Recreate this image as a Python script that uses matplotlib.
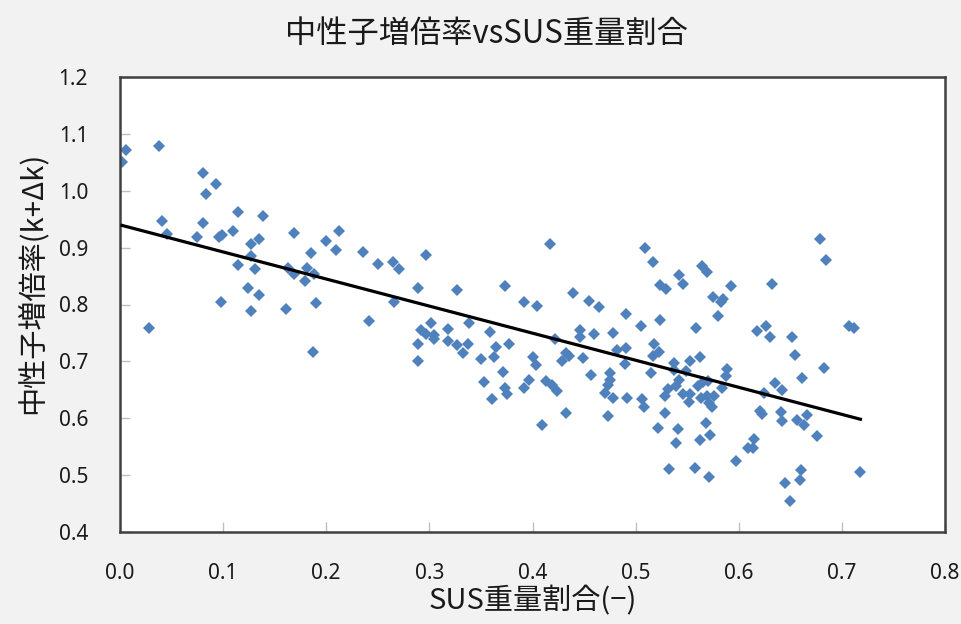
import matplotlib
matplotlib.use('Agg')
import matplotlib.pyplot as plt
import numpy as np

plt.rcParams['font.family'] = ['Noto Sans CJK JP', 'DejaVu Sans']

# SUS weight fraction [-] and neutron multiplication factor (k+dk)
sus_fraction = [
    0.002, 0.006, 0.038, 0.080, 0.093, 0.083, 0.114, 0.139, 0.041, 0.080,
    0.046, 0.075, 0.096, 0.099, 0.110, 0.135, 0.127, 0.169, 0.212, 0.200,
    0.209, 0.236, 0.250, 0.127, 0.185, 0.114, 0.131, 0.163, 0.169, 0.181,
    0.188, 0.179, 0.124, 0.135, 0.098, 0.161, 0.190, 0.127, 0.028, 0.187,
    0.241,
    0.265, 0.271, 0.297, 0.289, 0.327, 0.266, 0.373, 0.417, 0.439, 0.455,
    0.464, 0.392, 0.404, 0.491, 0.302, 0.292, 0.297, 0.304, 0.304, 0.318,
    0.318, 0.338, 0.327, 0.337, 0.333, 0.289, 0.289, 0.359, 0.365, 0.377,
    0.350, 0.363, 0.371, 0.353, 0.373, 0.375, 0.361, 0.392, 0.397, 0.400,
    0.403, 0.413, 0.419, 0.424, 0.422, 0.432, 0.409, 0.446, 0.446, 0.460,
    0.478, 0.482, 0.491, 0.432, 0.435, 0.429, 0.449, 0.490, 0.457, 0.475,
    0.475, 0.473, 0.470, 0.478, 0.492, 0.473,
    0.509, 0.517, 0.564, 0.569, 0.542, 0.546, 0.524, 0.529, 0.592, 0.632,
    0.575, 0.585, 0.583, 0.580, 0.524, 0.505, 0.559, 0.618, 0.626, 0.630,
    0.652, 0.518, 0.523, 0.517, 0.562, 0.553, 0.537, 0.537, 0.515, 0.549,
    0.589, 0.588, 0.542, 0.539, 0.531, 0.528, 0.546, 0.553, 0.552, 0.560,
    0.565, 0.570, 0.563, 0.571, 0.576, 0.5745, 0.584, 0.569, 0.635, 0.642,
    0.624, 0.506, 0.508, 0.528, 0.522, 0.541, 0.539, 0.568, 0.562, 0.572,
    0.532, 0.558, 0.571, 0.597, 0.615, 0.609, 0.614, 0.621, 0.623, 0.641,
    0.642, 0.645, 0.650,
    0.679, 0.685, 0.707, 0.712, 0.655, 0.683, 0.661, 0.656, 0.666, 0.663,
    0.676, 0.660, 0.659, 0.718,
]
k_factor = [
    1.050, 1.072, 1.078, 1.032, 1.011, 0.994, 0.963, 0.955, 0.947, 0.944,
    0.924, 0.918, 0.919, 0.923, 0.929, 0.916, 0.906, 0.926, 0.929, 0.911,
    0.896, 0.893, 0.872, 0.886, 0.890, 0.870, 0.863, 0.865, 0.853, 0.864,
    0.853, 0.842, 0.829, 0.816, 0.805, 0.792, 0.803, 0.788, 0.758, 0.717,
    0.771,
    0.875, 0.863, 0.887, 0.829, 0.826, 0.805, 0.833, 0.906, 0.820, 0.807,
    0.796, 0.805, 0.798, 0.784, 0.768, 0.756, 0.749, 0.746, 0.739, 0.757,
    0.735, 0.767, 0.729, 0.731, 0.714, 0.730, 0.700, 0.751, 0.725, 0.730,
    0.704, 0.707, 0.682, 0.663, 0.653, 0.642, 0.633, 0.653, 0.668, 0.708,
    0.694, 0.666, 0.659, 0.648, 0.739, 0.610, 0.588, 0.756, 0.743, 0.748,
    0.750, 0.720, 0.723, 0.714, 0.709, 0.701, 0.706, 0.695, 0.676, 0.679,
    0.668, 0.659, 0.644, 0.635, 0.635, 0.604,
    0.899, 0.875, 0.867, 0.857, 0.851, 0.836, 0.834, 0.827, 0.832, 0.836,
    0.813, 0.809, 0.804, 0.779, 0.772, 0.762, 0.758, 0.754, 0.763, 0.743,
    0.742, 0.730, 0.717, 0.710, 0.708, 0.700, 0.698, 0.684, 0.679, 0.683,
    0.686, 0.675, 0.668, 0.657, 0.651, 0.639, 0.642, 0.643, 0.628, 0.657,
    0.663, 0.665, 0.636, 0.627, 0.639, 0.619, 0.654, 0.640, 0.662, 0.649,
    0.645, 0.634, 0.620, 0.609, 0.582, 0.581, 0.557, 0.592, 0.561, 0.571,
    0.510, 0.512, 0.496, 0.525, 0.563, 0.547, 0.547, 0.613, 0.607, 0.611,
    0.596, 0.486, 0.455,
    0.916, 0.878, 0.763, 0.758, 0.712, 0.688, 0.670, 0.597, 0.605, 0.588,
    0.569, 0.509, 0.492, 0.506,
]

# linear trend line drawn over the data range
trend_intercept = 0.940
trend_slope = -0.476

x_ticks = [0.0, 0.1, 0.2, 0.3, 0.4, 0.5, 0.6, 0.7, 0.8]
y_ticks = [0.4, 0.5, 0.6, 0.7, 0.8, 0.9, 1.0, 1.1, 1.2]

fig = plt.figure(figsize=(9.61, 6.24), dpi=100, facecolor='#f2f2f2')
ax = fig.add_axes([120/961, 1 - 532/624, 825/961, 455/624])
ax.set_facecolor('white')

ax.plot(sus_fraction, k_factor, linestyle='', marker='D', markersize=6.2,
        markeredgewidth=0, color='#4f81bd', zorder=2)

x_fit = np.array([min(sus_fraction), max(sus_fraction)])
ax.plot(x_fit, trend_intercept + trend_slope*x_fit, color='black',
        linewidth=2.3, zorder=3)

ax.set_xlim(0.0, 0.8)
ax.set_ylim(0.4, 1.2)
ax.set_xticks(x_ticks)
ax.set_yticks(y_ticks)
ax.set_xticklabels([f'{v:.1f}' for v in x_ticks], family='Noto Sans')
ax.set_yticklabels([f'{v:.1f}' for v in y_ticks], family='Noto Sans')
ax.tick_params(axis='both', direction='in', length=7, width=1,
               color='#bfbfbf', labelsize=15, labelcolor='#1a1a1a')
ax.tick_params(axis='x', pad=22)
ax.tick_params(axis='y', pad=23)

for spine in ax.spines.values():
    spine.set_color('#404040')
    spine.set_linewidth(1.8)

fig.suptitle('中性子増倍率vsSUS重量割合', x=486/961, y=1 - 34/624,
             va='center', fontsize=22.5, color='#1a1a1a')
ax.set_xlabel('SUS重量割合(−)', fontsize=21, color='#1a1a1a', labelpad=2)
ax.set_ylabel('中性子増倍率(k+Δk)', fontsize=21, color='#1a1a1a')
ax.yaxis.set_label_coords(-0.088, 0.547)

fig.savefig('out.png', dpi=100, facecolor=fig.get_facecolor())
